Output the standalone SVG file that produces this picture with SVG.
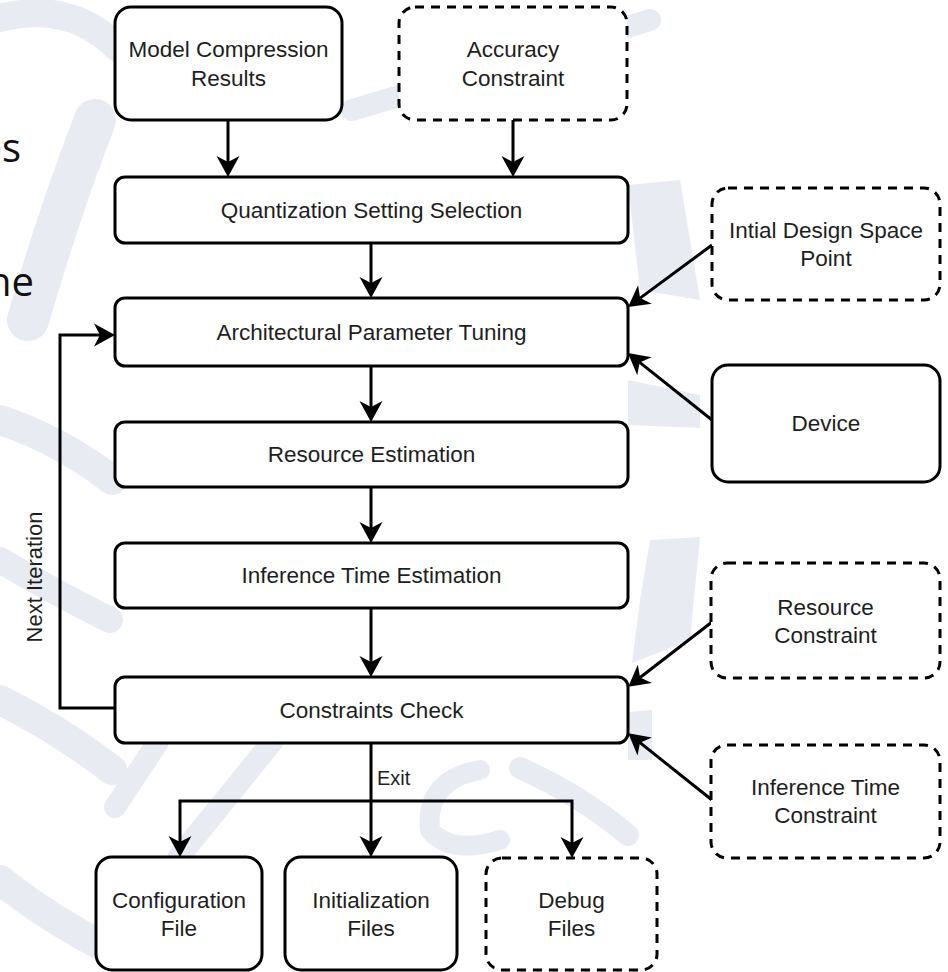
<svg xmlns="http://www.w3.org/2000/svg" width="948" height="972" viewBox="0 0 948 972">
  <defs>
    <style>
      .box { fill: #ffffff; stroke: #000000; stroke-width: 3; }
      .dash { stroke-dasharray: 9 7; }
      .lbl { font-family: "Liberation Sans", Arial, Helvetica, sans-serif; font-size: 22.5px; fill: #1e1e1e; text-anchor: middle; }
      .edge { fill: none; stroke: #000000; stroke-width: 3; marker-end: url(#arrow); }
      .wm { fill: none; stroke: #e8ecf2; stroke-linecap: round; stroke-linejoin: round; }
      .wmf { fill: #e8ecf2; stroke: none; }
      .side { font-family: "Open Sans", "Noto Sans", sans-serif; font-size: 40px; fill: #111111; text-anchor: end; }
    </style>
    <marker id="arrow" markerUnits="userSpaceOnUse" viewBox="-1 -12 23 24" refX="6" refY="0" markerWidth="23" markerHeight="24" orient="auto" overflow="visible">
      <path d="M0,-11.5 L21,0 L0,11.5 L6,0 Z" fill="#000000"/>
    </marker>
  </defs>

  <rect width="948" height="972" fill="#ffffff"/>

  <!-- faint calligraphic emblem behind the chart -->
  <g id="watermark">
    <path class="wm" d="M0,18 Q70,0 118,48" stroke-width="28"/>
    <path class="wm" d="M95,120 Q60,210 28,320" stroke-width="42"/>
    <path class="wm" d="M0,420 Q60,440 112,480" stroke-width="30"/>
    <path class="wm" d="M0,560 Q50,590 110,620" stroke-width="26"/>
    <path class="wm" d="M0,700 Q60,730 112,770" stroke-width="30"/>
    <path class="wm" d="M0,880 Q50,920 110,950" stroke-width="30"/>
    <path class="wm" d="M158,742 L115,807" stroke-width="22"/>
    <path class="wm" d="M272,742 L178,858" stroke-width="22"/>
    <path class="wm" d="M480,770 Q425,780 430,830 Q450,855 500,840" stroke-width="20"/>
    <path class="wm" d="M520,768 Q580,795 628,835" stroke-width="22"/>
    <path class="wmf" d="M628,185 L680,180 L700,300 L640,290 Z"/>
    <path class="wmf" d="M628,380 L700,395 L700,428 L628,425 Z"/>
    <path class="wmf" d="M650,540 L700,537 L690,640 L632,663 L640,600 Z"/>
    <path class="wmf" d="M628,712 L652,710 L652,760 L628,760 Z"/>
    <path class="wm" d="M650,20 Q520,60 352,110" stroke-width="22"/>
  </g>

  <!-- partially visible words at the left edge -->
  <text class="side" x="21" y="162">es</text>
  <text class="side" x="34" y="296">ne</text>

  <g id="connectors">
    <path class="edge" d="M228,120 V162"/>
    <path class="edge" d="M513,120 V162"/>
    <path class="edge" d="M371,243 V283"/>
    <path class="edge" d="M371,366 V407"/>
    <path class="edge" d="M371,487 V528"/>
    <path class="edge" d="M371,608 V662"/>
    <path class="edge" d="M115,708 H60 V335 H100"/>
    <path class="edge" d="M712,245 L640.1,298.1"/>
    <path class="edge" d="M712,420 L639.7,362.4"/>
    <path class="edge" d="M712,622 L640.1,677.5"/>
    <path class="edge" d="M712,800 L640,742.7"/>
    <path class="edge" d="M371,743 V842"/>
    <path class="edge" d="M371,801 H180 V842"/>
    <path class="edge" d="M371,801 H572 V843"/>
    <text class="lbl" x="377" y="785" style="text-anchor:start;font-size:20px">Exit</text>
    <text class="lbl" x="41.5" y="577" transform="rotate(-90 41.5 577)" style="font-size:22px">Next Iteration</text>
  </g>

  <g id="model-compression-results">
    <rect class="box" x="115" y="7" width="227" height="113" rx="16"/>
    <text class="lbl" x="228.5" y="57">Model Compression</text>
    <text class="lbl" x="228.5" y="86">Results</text>
  </g>
  <g id="accuracy-constraint">
    <rect class="box dash" x="399" y="7" width="228" height="113" rx="16"/>
    <text class="lbl" x="513" y="57">Accuracy</text>
    <text class="lbl" x="513" y="86">Constraint</text>
  </g>
  <g id="quantization-setting-selection">
    <rect class="box" x="115" y="177" width="513" height="66" rx="10"/>
    <text class="lbl" x="371.5" y="218">Quantization Setting Selection</text>
  </g>
  <g id="architectural-parameter-tuning">
    <rect class="box" x="115" y="298" width="513" height="68" rx="10"/>
    <text class="lbl" x="371.5" y="340">Architectural Parameter Tuning</text>
  </g>
  <g id="resource-estimation">
    <rect class="box" x="115" y="422" width="513" height="65" rx="10"/>
    <text class="lbl" x="371.5" y="462">Resource Estimation</text>
  </g>
  <g id="inference-time-estimation">
    <rect class="box" x="115" y="543" width="513" height="65" rx="10"/>
    <text class="lbl" x="371.5" y="583">Inference Time Estimation</text>
  </g>
  <g id="constraints-check">
    <rect class="box" x="115" y="677" width="513" height="66" rx="10"/>
    <text class="lbl" x="371.5" y="718">Constraints Check</text>
  </g>
  <g id="initial-design-space-point">
    <rect class="box dash" x="712" y="188" width="228" height="112" rx="16"/>
    <text class="lbl" x="826" y="238">Intial Design Space</text>
    <text class="lbl" x="826" y="266">Point</text>
  </g>
  <g id="device">
    <rect class="box" x="712" y="365" width="228" height="117" rx="16"/>
    <text class="lbl" x="826" y="431">Device</text>
  </g>
  <g id="resource-constraint">
    <rect class="box dash" x="711" y="563" width="229" height="115" rx="16"/>
    <text class="lbl" x="825.5" y="615">Resource</text>
    <text class="lbl" x="825.5" y="643">Constraint</text>
  </g>
  <g id="inference-time-constraint">
    <rect class="box dash" x="711" y="745" width="229" height="113" rx="16"/>
    <text class="lbl" x="825.5" y="795">Inference Time</text>
    <text class="lbl" x="825.5" y="823">Constraint</text>
  </g>
  <g id="configuration-file">
    <rect class="box" x="96" y="857" width="166" height="113" rx="16"/>
    <text class="lbl" x="179" y="908">Configuration</text>
    <text class="lbl" x="179" y="936">File</text>
  </g>
  <g id="initialization-files">
    <rect class="box" x="285" y="857" width="172" height="113" rx="16"/>
    <text class="lbl" x="371" y="908">Initialization</text>
    <text class="lbl" x="371" y="936">Files</text>
  </g>
  <g id="debug-files">
    <rect class="box dash" x="486" y="858" width="171" height="112" rx="16"/>
    <text class="lbl" x="571.5" y="908">Debug</text>
    <text class="lbl" x="571.5" y="936">Files</text>
  </g>
</svg>
